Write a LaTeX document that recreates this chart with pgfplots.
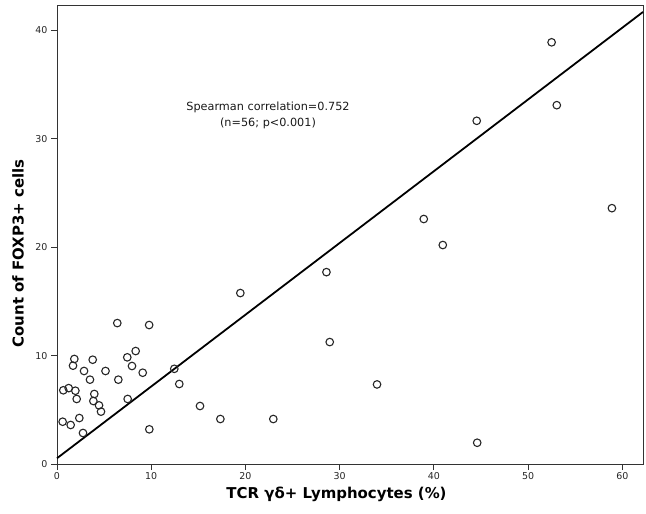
\documentclass[border=0pt]{standalone}
\usepackage{fontspec}
\setmainfont{DejaVu Sans}
\usepackage{pgfplots}
\pgfplotsset{compat=1.18}
\begin{document}
\begin{tikzpicture}
\begin{axis}[
  at={(0,0)}, anchor=south west,
  width=586bp, height=458bp, scale only axis,
  xmin=0, xmax=62.2, ymin=0, ymax=42.25,
  xtick={0,10,20,30,40,50,60}, ytick={0,10,20,30,40},
  xtick pos=bottom, ytick pos=left,
  tick align=outside, major tick length=6bp,
  axis line style={line width=1bp, black!80},
  tick style={line width=0.9bp, black!80},
  /pgf/number format/assume math mode=true,
  tick label style={font=\fontsize{9.5}{11}\selectfont, text=black!85},
  xticklabel style={yshift=1bp},
  xlabel={TCR γδ+ Lymphocytes (\%)},
  ylabel={Count of FOXP3+ cells},
  label style={font=\fontsize{15}{17}\selectfont\bfseries},
  xlabel style={at={(axis description cs:0.477,0)}, anchor=center, yshift=-30bp},
  ylabel style={at={(axis description cs:-0.0665,0.46)}, anchor=center},
  clip=false,
]
\addplot[line width=1.8bp, black] coordinates {(0,0.53) (62.2,41.7)};
\addplot[only marks, mark=o, mark size=3.8bp, mark options={line width=1.1bp, draw=black!85}] coordinates {
(0.6,3.9) (0.67,6.8) (1.24,7.0) (1.45,3.6) (1.7,9.07) (1.84,9.69) (1.95,6.76)
(2.09,6.0) (2.37,4.24) (2.76,2.86) (2.87,8.58) (3.5,7.78) (3.79,9.62) (3.86,5.81)
(3.96,6.46) (4.46,5.41) (4.67,4.83) (5.15,8.58) (6.4,13.0) (6.51,7.78) (7.46,9.84)
(7.5,6.0) (7.96,9.04) (8.35,10.42) (9.1,8.42) (9.78,12.82) (9.8,3.2) (12.45,8.78)
(12.98,7.38) (15.18,5.35) (17.34,4.15) (19.46,15.77) (22.96,4.15) (28.6,17.7)
(28.95,11.25) (33.97,7.34) (38.93,22.6) (40.95,20.2) (44.55,31.66) (44.6,1.96)
(52.5,38.9) (53.05,33.1) (58.9,23.6)
};
\node[align=center, font=\fontsize{11.3}{16}\selectfont, text=black!90] at (axis cs:22.4,32.2) {Spearman correlation=0.752\\(n=56; p<0.001)};
\end{axis}
\path (-57bp,-50bp) rectangle (589bp,464bp);
\end{tikzpicture}
\end{document}
